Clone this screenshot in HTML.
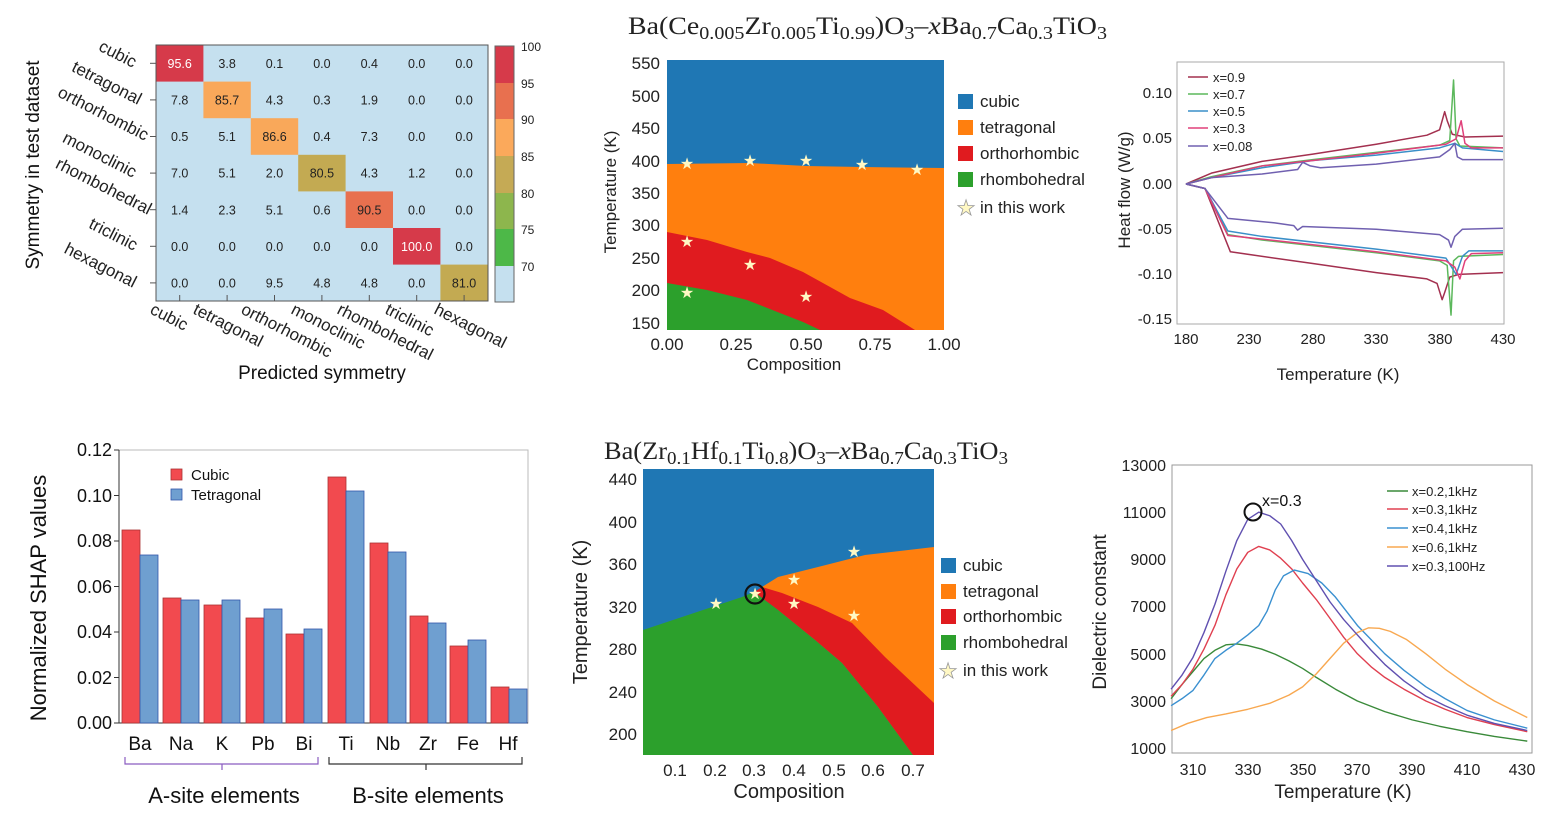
<!DOCTYPE html>
<html><head><meta charset="utf-8"><style>
html,body{margin:0;padding:0;background:#fff}
svg{display:block;font-family:"Liberation Sans",sans-serif}
.nl{vector-effect:non-scaling-stroke;fill:none;stroke-linejoin:round}
</style></head><body>
<svg width="1544" height="817" viewBox="0 0 1544 817" xmlns="http://www.w3.org/2000/svg">
<!-- ===== Confusion matrix ===== -->
<rect x="156" y="45" width="332" height="256" fill="#c5e0ef"/>
<rect x="156" y="45" width="47.4" height="36.6" fill="#d63a4a"/>
<rect x="203.4" y="81.6" width="47.4" height="36.6" fill="#f9a85a"/>
<rect x="250.8" y="118.2" width="47.4" height="36.6" fill="#f9a85a"/>
<rect x="298.2" y="154.8" width="47.4" height="36.6" fill="#c3aa52"/>
<rect x="345.6" y="191.4" width="47.4" height="36.6" fill="#e8704f"/>
<rect x="393" y="228" width="47.4" height="36.6" fill="#d63a4a"/>
<rect x="440.4" y="264.6" width="47.6" height="36.4" fill="#c3aa52"/>
<rect x="156" y="45" width="332" height="256" fill="none" stroke="#555" stroke-width="1"/>
<g font-size="12.5" fill="#222" text-anchor="middle">
<text x="179.7" y="68" fill="#fff">95.6</text><text x="227.1" y="68">3.8</text><text x="274.5" y="68">0.1</text><text x="321.9" y="68">0.0</text><text x="369.3" y="68">0.4</text><text x="416.7" y="68">0.0</text><text x="464.1" y="68">0.0</text>
<text x="179.7" y="104.5">7.8</text><text x="227.1" y="104.5">85.7</text><text x="274.5" y="104.5">4.3</text><text x="321.9" y="104.5">0.3</text><text x="369.3" y="104.5">1.9</text><text x="416.7" y="104.5">0.0</text><text x="464.1" y="104.5">0.0</text>
<text x="179.7" y="141">0.5</text><text x="227.1" y="141">5.1</text><text x="274.5" y="141">86.6</text><text x="321.9" y="141">0.4</text><text x="369.3" y="141">7.3</text><text x="416.7" y="141">0.0</text><text x="464.1" y="141">0.0</text>
<text x="179.7" y="177.7">7.0</text><text x="227.1" y="177.7">5.1</text><text x="274.5" y="177.7">2.0</text><text x="321.9" y="177.7">80.5</text><text x="369.3" y="177.7">4.3</text><text x="416.7" y="177.7">1.2</text><text x="464.1" y="177.7">0.0</text>
<text x="179.7" y="214.3">1.4</text><text x="227.1" y="214.3">2.3</text><text x="274.5" y="214.3">5.1</text><text x="321.9" y="214.3">0.6</text><text x="369.3" y="214.3">90.5</text><text x="416.7" y="214.3">0.0</text><text x="464.1" y="214.3">0.0</text>
<text x="179.7" y="251">0.0</text><text x="227.1" y="251">0.0</text><text x="274.5" y="251">0.0</text><text x="321.9" y="251">0.0</text><text x="369.3" y="251">0.0</text><text x="416.7" y="251" fill="#fff">100.0</text><text x="464.1" y="251">0.0</text>
<text x="179.7" y="287.5">0.0</text><text x="227.1" y="287.5">0.0</text><text x="274.5" y="287.5">9.5</text><text x="321.9" y="287.5">4.8</text><text x="369.3" y="287.5">4.8</text><text x="416.7" y="287.5">0.0</text><text x="464.1" y="287.5">81.0</text>
</g>
<g stroke="#555" stroke-width="1">
<line x1="150" y1="63.3" x2="156" y2="63.3"/><line x1="150" y1="99.9" x2="156" y2="99.9"/><line x1="150" y1="136.5" x2="156" y2="136.5"/><line x1="150" y1="173.1" x2="156" y2="173.1"/><line x1="150" y1="209.7" x2="156" y2="209.7"/><line x1="150" y1="246.3" x2="156" y2="246.3"/><line x1="150" y1="282.9" x2="156" y2="282.9"/>
<line x1="179.7" y1="295" x2="179.7" y2="301"/><line x1="227.1" y1="295" x2="227.1" y2="301"/><line x1="274.5" y1="295" x2="274.5" y2="301"/><line x1="321.9" y1="295" x2="321.9" y2="301"/><line x1="369.3" y1="295" x2="369.3" y2="301"/><line x1="416.7" y1="295" x2="416.7" y2="301"/><line x1="464.1" y1="295" x2="464.1" y2="301"/>
</g>
<g font-size="17" fill="#222" text-anchor="end">
<text transform="translate(133,68) rotate(27)">cubic</text>
<text transform="translate(138,105) rotate(27)">tetragonal</text>
<text transform="translate(145,141) rotate(27)">orthorhombic</text>
<text transform="translate(133,178) rotate(27)">monoclinic</text>
<text transform="translate(148,215) rotate(27)">rhombohedral</text>
<text transform="translate(134,251) rotate(27)">triclinic</text>
<text transform="translate(133,288) rotate(27)">hexagonal</text>
</g>
<g font-size="17" fill="#222">
<text transform="translate(149,313) rotate(27)">cubic</text>
<text transform="translate(192,313) rotate(27)">tetragonal</text>
<text transform="translate(240,313) rotate(27)">orthorhombic</text>
<text transform="translate(290,313) rotate(27)">monoclinic</text>
<text transform="translate(336,313) rotate(27)">rhombohedral</text>
<text transform="translate(384,313) rotate(27)">triclinic</text>
<text transform="translate(433,313) rotate(27)">hexagonal</text>
</g>
<text x="322" y="379" font-size="19" text-anchor="middle" fill="#111">Predicted symmetry</text>
<text transform="translate(39,165) rotate(-90)" font-size="19" text-anchor="middle" fill="#111">Symmetry in test dataset</text>
<!-- colorbar -->
<rect x="495" y="46" width="19" height="37" fill="#d63a4a"/>
<rect x="495" y="83" width="19" height="36" fill="#e8704f"/>
<rect x="495" y="119" width="19" height="37" fill="#fba95b"/>
<rect x="495" y="156" width="19" height="37" fill="#c5aa55"/>
<rect x="495" y="193" width="19" height="36" fill="#8db64d"/>
<rect x="495" y="229" width="19" height="37" fill="#4db848"/>
<rect x="495" y="266" width="19" height="36" fill="#c5e0ef"/>
<rect x="495" y="46" width="19" height="256" fill="none" stroke="#666"/>
<g font-size="12" fill="#222"><text x="521" y="51">100</text><text x="521" y="88">95</text><text x="521" y="124">90</text><text x="521" y="161">85</text><text x="521" y="198">80</text><text x="521" y="234">75</text><text x="521" y="271">70</text></g>

<!-- ===== SHAP bars ===== -->
<rect x="119" y="450" width="409" height="273" fill="none" stroke="#bbb"/>
<g stroke="#333"><line x1="119" y1="450" x2="119" y2="723"/><line x1="119" y1="723" x2="528" y2="723"/></g>
<g font-size="18" fill="#111" text-anchor="end">
<text x="112" y="729">0.00</text><text x="112" y="684">0.02</text><text x="112" y="638">0.04</text><text x="112" y="593">0.06</text><text x="112" y="547">0.08</text><text x="112" y="502">0.10</text><text x="112" y="456">0.12</text>
</g>
<g stroke="#333"><line x1="114" y1="723" x2="119" y2="723"/><line x1="114" y1="677.5" x2="119" y2="677.5"/><line x1="114" y1="632" x2="119" y2="632"/><line x1="114" y1="586.5" x2="119" y2="586.5"/><line x1="114" y1="541" x2="119" y2="541"/><line x1="114" y1="495.5" x2="119" y2="495.5"/><line x1="114" y1="450" x2="119" y2="450"/></g>
<g stroke="#a33" stroke-width="0.8" fill="#f24a4f">
<rect x="122" y="530" width="18" height="193"/><rect x="163" y="598" width="18" height="125"/><rect x="204" y="605" width="18" height="118"/><rect x="246" y="618" width="18" height="105"/><rect x="286" y="634" width="18" height="89"/>
<rect x="328" y="477" width="18" height="246"/><rect x="370" y="543" width="18" height="180"/><rect x="410" y="616" width="18" height="107"/><rect x="450" y="646" width="18" height="77"/><rect x="491" y="687" width="18" height="36"/>
</g>
<g stroke="#35a" stroke-width="0.8" fill="#6f9fd0">
<rect x="140" y="555" width="18" height="168"/><rect x="181" y="600" width="18" height="123"/><rect x="222" y="600" width="18" height="123"/><rect x="264" y="609" width="18" height="114"/><rect x="304" y="629" width="18" height="94"/>
<rect x="346" y="491" width="18" height="232"/><rect x="388" y="552" width="18" height="171"/><rect x="428" y="623" width="18" height="100"/><rect x="468" y="640" width="18" height="83"/><rect x="509" y="689" width="18" height="34"/>
</g>
<rect x="171" y="469" width="11" height="11" fill="#f24a4f" stroke="#a33" stroke-width="0.8"/>
<rect x="171" y="489" width="11" height="11" fill="#6f9fd0" stroke="#35a" stroke-width="0.8"/>
<text x="191" y="480" font-size="15" fill="#111">Cubic</text>
<text x="191" y="500" font-size="15" fill="#111">Tetragonal</text>
<g font-size="19" fill="#111" text-anchor="middle">
<text x="140" y="750">Ba</text><text x="181" y="750">Na</text><text x="222" y="750">K</text><text x="263" y="750">Pb</text><text x="304" y="750">Bi</text><text x="346" y="750">Ti</text><text x="388" y="750">Nb</text><text x="428" y="750">Zr</text><text x="468" y="750">Fe</text><text x="508" y="750">Hf</text>
</g>
<path d="M125,757 V764 H318 V757 M222,764 V770" stroke="#8a5cc0" stroke-width="1.2" fill="none"/>
<path d="M329,757 V764 H522 V757 M426,764 V770" stroke="#333" stroke-width="1.2" fill="none"/>
<text x="224" y="803" font-size="22" text-anchor="middle" fill="#111">A-site elements</text>
<text x="428" y="803" font-size="22" text-anchor="middle" fill="#111">B-site elements</text>
<text transform="translate(46,598) rotate(-90)" font-size="22" text-anchor="middle" fill="#111">Normalized SHAP values</text>

<!-- ===== Top phase diagram ===== -->
<text x="628" y="34" font-family="'Liberation Serif',serif" font-size="25" fill="#222" textLength="479" lengthAdjust="spacingAndGlyphs">Ba(Ce<tspan font-size="18" dy="5">0.005</tspan><tspan dy="-5">Zr</tspan><tspan font-size="18" dy="5">0.005</tspan><tspan dy="-5">Ti</tspan><tspan font-size="18" dy="5">0.99</tspan><tspan dy="-5">)O</tspan><tspan font-size="18" dy="5">3</tspan><tspan dy="-5">–</tspan><tspan font-style="italic">x</tspan>Ba<tspan font-size="18" dy="5">0.7</tspan><tspan dy="-5">Ca</tspan><tspan font-size="18" dy="5">0.3</tspan><tspan dy="-5">TiO</tspan><tspan font-size="18" dy="5">3</tspan></text>
<rect x="667" y="60" width="277" height="270" fill="#1f77b4"/>
<polygon points="667,164 750,163 806,166 862,167 944,168 944,330 667,330" fill="#ff7f0e"/>
<polygon points="667,232 707,240 747,252 770,258 803,272 850,298 883,310 915,330 667,330" fill="#e01b1f"/>
<polygon points="667,283 707,290 747,300 780,313 803,322 820,330 667,330" fill="#2ca02c"/>
<g fill="#fff8c4" font-size="16" text-anchor="middle">
<text x="687" y="169">★</text><text x="750" y="166">★</text><text x="806" y="166">★</text><text x="862" y="170">★</text><text x="917" y="175">★</text>
<text x="687" y="247">★</text><text x="750" y="270">★</text><text x="806" y="302">★</text><text x="687" y="298">★</text>
</g>
<g font-size="17" fill="#222" text-anchor="end">
<text x="660" y="69">550</text><text x="660" y="102">500</text><text x="660" y="134">450</text><text x="660" y="167">400</text><text x="660" y="199">350</text><text x="660" y="231">300</text><text x="660" y="264">250</text><text x="660" y="296">200</text><text x="660" y="329">150</text>
</g>
<g font-size="17" fill="#222" text-anchor="middle">
<text x="667" y="350">0.00</text><text x="736" y="350">0.25</text><text x="806" y="350">0.50</text><text x="875" y="350">0.75</text><text x="944" y="350">1.00</text>
</g>
<text x="794" y="370" font-size="17" text-anchor="middle" fill="#222">Composition</text>
<text transform="translate(616,192) rotate(-90)" font-size="17" text-anchor="middle" fill="#222">Temperature (K)</text>
<rect x="958" y="94" width="15" height="15" fill="#1f77b4"/><rect x="958" y="120" width="15" height="15" fill="#ff7f0e"/><rect x="958" y="146" width="15" height="15" fill="#e01b1f"/><rect x="958" y="172" width="15" height="15" fill="#2ca02c"/>
<text x="966" y="215" font-size="21" text-anchor="middle" fill="#fff8c4" stroke="#999" stroke-width="0.8">★</text>
<g font-size="17" fill="#222"><text x="980" y="107">cubic</text><text x="980" y="133">tetragonal</text><text x="980" y="159">orthorhombic</text><text x="980" y="185">rhombohedral</text><text x="980" y="213">in this work</text></g>

<!-- ===== Bottom phase diagram ===== -->
<text x="604" y="459" font-family="'Liberation Serif',serif" font-size="25" fill="#222" textLength="404" lengthAdjust="spacingAndGlyphs">Ba(Zr<tspan font-size="18" dy="5">0.1</tspan><tspan dy="-5">Hf</tspan><tspan font-size="18" dy="5">0.1</tspan><tspan dy="-5">Ti</tspan><tspan font-size="18" dy="5">0.8</tspan><tspan dy="-5">)O</tspan><tspan font-size="18" dy="5">3</tspan><tspan dy="-5">–</tspan><tspan font-style="italic">x</tspan>Ba<tspan font-size="18" dy="5">0.7</tspan><tspan dy="-5">Ca</tspan><tspan font-size="18" dy="5">0.3</tspan><tspan dy="-5">TiO</tspan><tspan font-size="18" dy="5">3</tspan></text>
<rect x="643" y="469" width="291" height="286" fill="#1f77b4"/>
<polygon points="762,587 778,577 818,567 865,555 934,547 934,755 913,755 878,707 842,663 815,640 778,610" fill="#ff7f0e"/>
<polygon points="754,592 762,587 782,593 818,607 852,623 885,657 934,703 934,755 913,755 878,707 842,663 815,640 778,610" fill="#e01b1f"/>
<polygon points="643,630 712,607 742,597 754,592 778,610 815,640 842,663 878,707 913,755 643,755" fill="#2ca02c"/>
<g fill="#fff8c4" font-size="16" text-anchor="middle">
<text x="716" y="609">★</text><text x="755" y="599">★</text><text x="794" y="585">★</text><text x="794" y="609">★</text><text x="854" y="557">★</text><text x="854" y="621">★</text>
</g>
<circle cx="755" cy="594" r="9.5" fill="none" stroke="#111" stroke-width="2.2"/>
<g font-size="17" fill="#222" text-anchor="end">
<text x="637" y="485">440</text><text x="637" y="528">400</text><text x="637" y="570">360</text><text x="637" y="613">320</text><text x="637" y="655">280</text><text x="637" y="698">240</text><text x="637" y="740">200</text>
</g>
<g font-size="17" fill="#222" text-anchor="middle">
<text x="675" y="776">0.1</text><text x="715" y="776">0.2</text><text x="754" y="776">0.3</text><text x="794" y="776">0.4</text><text x="834" y="776">0.5</text><text x="873" y="776">0.6</text><text x="913" y="776">0.7</text>
</g>
<text x="789" y="798" font-size="20" text-anchor="middle" fill="#222">Composition</text>
<text transform="translate(587,612) rotate(-90)" font-size="20" text-anchor="middle" fill="#222">Temperature (K)</text>
<rect x="941" y="558" width="15" height="15" fill="#1f77b4"/><rect x="941" y="584" width="15" height="15" fill="#ff7f0e"/><rect x="941" y="609" width="15" height="15" fill="#e01b1f"/><rect x="941" y="635" width="15" height="15" fill="#2ca02c"/>
<text x="948" y="678" font-size="21" text-anchor="middle" fill="#fff8c4" stroke="#999" stroke-width="0.8">★</text>
<g font-size="17" fill="#222"><text x="963" y="571">cubic</text><text x="963" y="597">tetragonal</text><text x="963" y="622">orthorhombic</text><text x="963" y="648">rhombohedral</text><text x="963" y="676">in this work</text></g>

<!-- ===== Heat flow ===== -->
<rect x="1177" y="62" width="327" height="262" fill="none" stroke="#aaa"/>
<g font-size="15" fill="#222" text-anchor="end">
<text x="1172" y="98">0.10</text><text x="1172" y="143">0.05</text><text x="1172" y="189">0.00</text><text x="1172" y="234">-0.05</text><text x="1172" y="279">-0.10</text><text x="1172" y="324">-0.15</text>
</g>
<g font-size="15" fill="#222" text-anchor="middle">
<text x="1186" y="344">180</text><text x="1249" y="344">230</text><text x="1313" y="344">280</text><text x="1376" y="344">330</text><text x="1440" y="344">380</text><text x="1503" y="344">430</text>
</g>
<text x="1338" y="380" font-size="17" text-anchor="middle" fill="#222">Temperature (K)</text>
<text transform="translate(1130,190) rotate(-90)" font-size="17" text-anchor="middle" fill="#222">Heat flow (W/g)</text>
<g transform="matrix(1.268,0,0,-904,957.76,184)" stroke-width="1.5">
<polyline class="nl" stroke="#a3304f" points="180,0 200,0.012 240,0.025 280,0.033 330,0.044 370,0.054 380,0.06 384,0.08 386,0.07 390,0.055 400,0.052 430,0.053"/>
<polyline class="nl" stroke="#a3304f" points="180,0 195,-0.005 215,-0.075 280,-0.088 330,-0.098 370,-0.105 378,-0.11 382,-0.128 384,-0.12 388,-0.103 395,-0.1 430,-0.098"/>
<polyline class="nl" stroke="#5cb85c" points="180,0 200,0.008 240,0.02 280,0.027 330,0.035 380,0.043 388,0.048 391,0.115 393,0.05 396,0.042 430,0.04"/>
<polyline class="nl" stroke="#5cb85c" points="180,0 195,-0.005 213,-0.056 240,-0.062 330,-0.076 380,-0.085 386,-0.09 389,-0.145 391,-0.085 395,-0.08 430,-0.078"/>
<polyline class="nl" stroke="#3a8fc8" points="180,0 200,0.007 240,0.018 280,0.026 330,0.032 380,0.04 392,0.045 398,0.04 430,0.036"/>
<polyline class="nl" stroke="#3a8fc8" points="180,0 195,-0.005 213,-0.052 240,-0.058 330,-0.072 385,-0.082 393,-0.1 398,-0.08 403,-0.074 430,-0.074"/>
<polyline class="nl" stroke="#e0407a" points="180,0 200,0.007 240,0.02 280,0.026 330,0.034 385,0.044 393,0.05 397,0.07 400,0.045 405,0.04 430,0.04"/>
<polyline class="nl" stroke="#e0407a" points="180,0 195,-0.005 213,-0.057 240,-0.061 330,-0.075 385,-0.085 392,-0.092 396,-0.105 400,-0.085 405,-0.077 430,-0.076"/>
<polyline class="nl" stroke="#7060b0" points="180,0 200,0.007 240,0.011 268,0.016 272,0.024 278,0.02 286,0.018 330,0.022 380,0.03 388,0.038 392,0.045 394,0.03 398,0.027 430,0.027"/>
<polyline class="nl" stroke="#7060b0" points="180,0 195,-0.005 213,-0.038 250,-0.043 265,-0.046 268,-0.051 272,-0.047 330,-0.05 380,-0.056 387,-0.062 389,-0.07 392,-0.058 398,-0.05 430,-0.049"/>
</g>
<g stroke-width="1.5">
<line x1="1188" y1="77" x2="1208" y2="77" stroke="#a3304f"/><line x1="1188" y1="94" x2="1208" y2="94" stroke="#5cb85c"/><line x1="1188" y1="111" x2="1208" y2="111" stroke="#3a8fc8"/><line x1="1188" y1="128" x2="1208" y2="128" stroke="#e0407a"/><line x1="1188" y1="146" x2="1208" y2="146" stroke="#7060b0"/>
</g>
<g font-size="13" fill="#222"><text x="1213" y="82">x=0.9</text><text x="1213" y="99">x=0.7</text><text x="1213" y="116">x=0.5</text><text x="1213" y="133">x=0.3</text><text x="1213" y="151">x=0.08</text></g>

<!-- ===== Dielectric ===== -->
<rect x="1172" y="465" width="360" height="288" fill="none" stroke="#999"/>
<g font-size="16" fill="#222" text-anchor="end">
<text x="1166" y="471">13000</text><text x="1166" y="518">11000</text><text x="1166" y="565">9000</text><text x="1166" y="612">7000</text><text x="1166" y="660">5000</text><text x="1166" y="707">3000</text><text x="1166" y="754">1000</text>
</g>
<g font-size="16" fill="#222" text-anchor="middle">
<text x="1193" y="775">310</text><text x="1248" y="775">330</text><text x="1303" y="775">350</text><text x="1357" y="775">370</text><text x="1412" y="775">390</text><text x="1467" y="775">410</text><text x="1522" y="775">430</text>
</g>
<text x="1343" y="798" font-size="19" text-anchor="middle" fill="#222">Temperature (K)</text>
<text transform="translate(1106,612) rotate(-90)" font-size="19" text-anchor="middle" fill="#222">Dielectric constant</text>
<g transform="matrix(2.74,0,0,-0.0236,343.6,771.8)" stroke-width="1.4">
<polyline class="nl" stroke="#3a8a3a" points="302,3100 306,3700 310,4250 314,4800 318,5150 322,5380 326,5420 330,5350 335,5200 340,4980 345,4700 350,4380 355,4000 362,3500 370,3000 380,2550 390,2200 400,1930 410,1700 420,1500 432,1300"/>
<polyline class="nl" stroke="#e04050" points="302,3200 306,3700 310,4350 314,5200 318,6200 322,7500 326,8600 330,9300 334,9550 338,9400 342,9050 346,8600 350,8000 355,7300 360,6500 365,5700 370,5000 375,4450 380,4000 387,3500 395,3000 402,2650 410,2300 420,2000 432,1700"/>
<polyline class="nl" stroke="#3a90d0" points="302,2800 306,3100 310,3450 314,4100 318,4800 322,5150 326,5450 330,5800 334,6200 337,6800 340,7700 343,8300 347,8550 352,8400 357,8000 362,7400 366,6800 370,6200 375,5600 380,5000 387,4300 395,3600 402,3100 410,2600 420,2200 432,1850"/>
<polyline class="nl" stroke="#f8a850" points="302,1750 308,2050 315,2300 322,2450 330,2650 338,2900 345,3250 350,3600 355,4150 360,4800 365,5450 370,5900 374,6100 378,6080 382,5950 388,5600 395,5000 402,4350 410,3700 420,3000 432,2300"/>
<polyline class="nl" stroke="#6050b0" points="302,3500 306,4100 310,4850 314,5900 318,7100 322,8500 326,9800 330,10700 334,11000 338,10850 342,10500 346,9800 350,9000 355,8100 360,7200 365,6450 370,5800 375,5150 380,4550 387,3850 395,3200 402,2800 410,2400 420,2050 432,1750"/>
</g>
<circle cx="1253" cy="512" r="8.5" fill="none" stroke="#111" stroke-width="2"/>
<text x="1262" y="506" font-size="16" fill="#111">x=0.3</text>
<g stroke-width="1.5">
<line x1="1387" y1="491" x2="1408" y2="491" stroke="#3a8a3a"/><line x1="1387" y1="509" x2="1408" y2="509" stroke="#e04050"/><line x1="1387" y1="528" x2="1408" y2="528" stroke="#3a90d0"/><line x1="1387" y1="547" x2="1408" y2="547" stroke="#f8a850"/><line x1="1387" y1="566" x2="1408" y2="566" stroke="#6050b0"/>
</g>
<g font-size="13" fill="#222"><text x="1412" y="496">x=0.2,1kHz</text><text x="1412" y="514">x=0.3,1kHz</text><text x="1412" y="533">x=0.4,1kHz</text><text x="1412" y="552">x=0.6,1kHz</text><text x="1412" y="571">x=0.3,100Hz</text></g>
</svg>
</body></html>
